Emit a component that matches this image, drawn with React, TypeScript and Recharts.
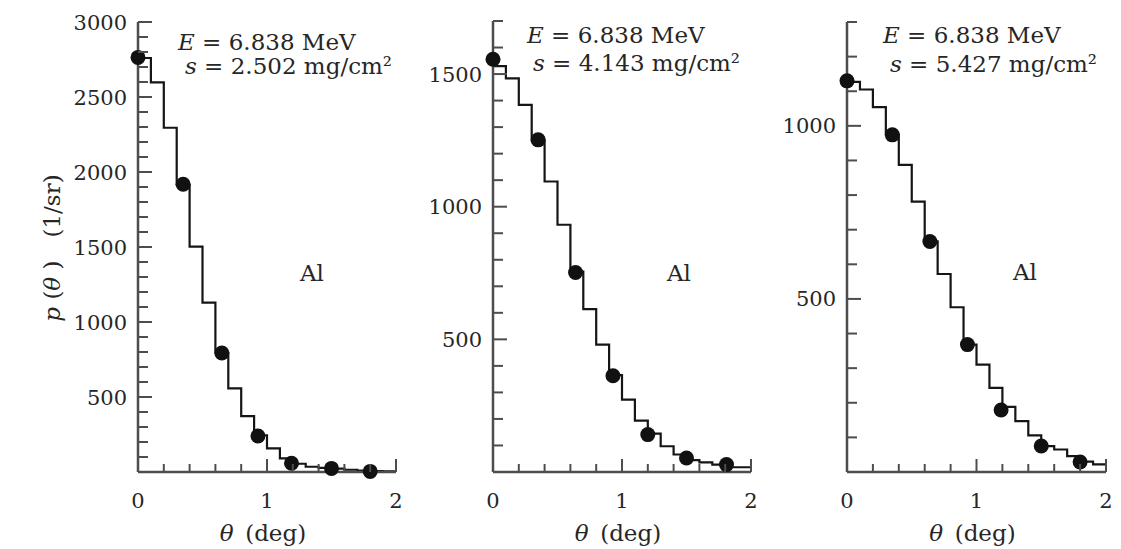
import { ComposedChart, Line, Scatter, XAxis, YAxis } from 'recharts';

// bin edges of the histogram (deg), shared by all panels
const binEdges = [0, 0.1, 0.2, 0.3, 0.4, 0.5, 0.6, 0.7, 0.8, 0.9, 1.0, 1.1, 1.2, 1.3, 1.4, 1.5, 1.6, 1.7, 1.8, 1.9, 2.0];
const xTicks = [0, 0.2, 0.4, 0.6, 0.8, 1, 1.2, 1.4, 1.6, 1.8, 2];
const xLabels = [0, 1, 2];

// s = 2.502 mg/cm2
const hist1 = [2760, 2598, 2295, 1915, 1502, 1129, 795, 558, 373, 245, 158, 91, 55, 35, 28, 22, 15, 10, 6, 4];
const measX1 = [0, 0.35, 0.65, 0.93, 1.19, 1.5, 1.8];
const measY1 = [2764, 1918, 793, 240, 58, 24, 4];
const yLabels1 = [500, 1000, 1500, 2000, 2500, 3000];

// s = 4.143 mg/cm2
const hist2 = [1530, 1484, 1384, 1250, 1095, 932, 755, 614, 480, 365, 273, 194, 145, 97, 66, 45, 36, 28, 18, 18];
const measX2 = [0, 0.35, 0.64, 0.93, 1.2, 1.5, 1.81];
const measY2 = [1556, 1252, 752, 363, 141, 53, 28];
const yLabels2 = [500, 1000, 1500];

// s = 5.427 mg/cm2
const hist3 = [1127, 1105, 1054, 975, 887, 781, 666, 572, 476, 368, 310, 243, 188, 147, 106, 75, 65, 46, 30, 22];
const measX3 = [0, 0.35, 0.64, 0.93, 1.19, 1.5, 1.8];
const measY3 = [1130, 974, 666, 368, 179, 75, 29];
const yLabels3 = [500, 1000];

const FONT = "'DejaVu Serif', serif";
const TEXT = '#262626';
const AXIS = '#4d4d4d';
const H = 549;

const panels = [
  {
    hist: hist1, mx: measX1, my: measY1, yMax: 3000, yLabels: yLabels1,
    thickness: '2.502', plotLeft: 138, plotTop: 22, plotBottom: 472, plotW: 258, yAxisW: 138,
    eAt: [178, 50], sAt: [185, 74], alAt: [300, 281], showYTitle: true,
  },
  {
    hist: hist2, mx: measX2, my: measY2, yMax: 1700, yLabels: yLabels2,
    thickness: '4.143', plotLeft: 493, plotTop: 21, plotBottom: 472, plotW: 258, yAxisW: 90,
    eAt: [527, 43], sAt: [533, 71], alAt: [667, 281], showYTitle: false,
  },
  {
    hist: hist3, mx: measX3, my: measY3, yMax: 1300, yLabels: yLabels3,
    thickness: '5.427', plotLeft: 847, plotTop: 22, plotBottom: 472, plotW: 259, yAxisW: 90,
    eAt: [883, 43], sAt: [890, 72], alAt: [1013, 280], showYTitle: false,
  },
];

function XTick(props: any) {
  const { x, y, payload } = props;
  const v = payload.value;
  const major = xLabels.includes(v);
  return (
    <g>
      {v > 0 && <line x1={x} x2={x} y1={y} y2={y - (major ? 13 : 8)} stroke={AXIS} strokeWidth={2} />}
      {major && (
        <text x={x} y={y + 36} textAnchor="middle" fontFamily={FONT} fontSize={21} fill={TEXT}>
          {v}
        </text>
      )}
    </g>
  );
}

function makeYTick(labels: number[]) {
  return function YTick(props: any) {
    const { x, y, payload } = props;
    const v = payload.value;
    const major = labels.includes(v);
    if (v === 0) return <g />;
    return (
      <g>
        <line x1={x} x2={x + (major ? 14 : 10)} y1={y} y2={y} stroke={AXIS} strokeWidth={2} />
        {major && (
          <text x={x - 11} y={y + 7.5} textAnchor="end" fontFamily={FONT} fontSize={21} fill={TEXT}>
            {v}
          </text>
        )}
      </g>
    );
  };
}

function xTitle(props: any) {
  const vb = props.viewBox;
  return (
    <text x={vb.x + vb.width / 2 - 4} y={vb.y + 69} textAnchor="middle" fontFamily={FONT} fontSize={23} fill={TEXT}>
      <tspan fontStyle="italic">θ</tspan>
      <tspan>{'\u2002(deg)'}</tspan>
    </text>
  );
}

function yTitle() {
  return (
    <text x={60} y={248} transform="rotate(-90, 60, 248)" textAnchor="middle" fontFamily={FONT} fontSize={23} fill={TEXT}>
      <tspan fontStyle="italic">p</tspan>
      <tspan> (</tspan>
      <tspan fontStyle="italic">θ</tspan>
      <tspan>{' )\u2003(1/sr)'}</tspan>
    </text>
  );
}

const Dot = (props: any) => <circle cx={props.cx} cy={props.cy} r={7.5} fill="#111" />;

function Panel({ p }: { p: (typeof panels)[number] }) {
  const histData = binEdges.map((x, i) => ({ x, y: p.hist[Math.min(i, p.hist.length - 1)] }));
  const measData = p.mx.map((x, i) => ({ x, y: p.my[i] }));
  const yTicks = Array.from({ length: p.yMax / 100 + 1 }, (_, i) => i * 100);
  const right = 30;
  const width = p.yAxisW + p.plotW + right;
  return (
    <div style={{ position: 'absolute', left: p.plotLeft - p.yAxisW, top: 0 }}>
      <ComposedChart
        width={width}
        height={H}
        margin={{ top: p.plotTop, right, bottom: 0, left: 0 }}
      >
        <XAxis
          type="number"
          dataKey="x"
          domain={[0, 2]}
          ticks={xTicks}
          interval={0}
          tickLine={false}
          tickSize={0}
          tickMargin={0}
          tick={XTick}
          height={H - p.plotBottom}
          axisLine={{ stroke: AXIS, strokeWidth: 2.5 }}
          label={xTitle}
        />
        <YAxis
          type="number"
          dataKey="y"
          domain={[0, p.yMax]}
          ticks={yTicks}
          interval={0}
          tickLine={false}
          tickSize={0}
          tickMargin={0}
          tick={makeYTick(p.yLabels)}
          width={p.yAxisW}
          axisLine={{ stroke: AXIS, strokeWidth: 2.5 }}
          label={p.showYTitle ? yTitle : undefined}
        />
        <Line
          data={histData}
          dataKey="y"
          type="stepAfter"
          stroke="#151515"
          strokeWidth={2.2}
          dot={false}
          isAnimationActive={false}
        />
        <Scatter data={measData} dataKey="y" shape={Dot} isAnimationActive={false} />
      </ComposedChart>
    </div>
  );
}

export default function App() {
  return (
    <div style={{ position: 'absolute', left: 0, top: 0, width: 1121, height: H, background: '#fff' }}>
      {panels.map((p, i) => (
        <Panel key={i} p={p} />
      ))}
      <svg width={1121} height={H} style={{ position: 'absolute', left: 0, top: 0, pointerEvents: 'none' }}>
        {panels.map((p, i) => (
          <g key={i} fontFamily={FONT} fontSize={23} fill={TEXT}>
            <text x={p.eAt[0]} y={p.eAt[1]}>
              <tspan fontStyle="italic">E</tspan>
              <tspan>{' = 6.838 MeV'}</tspan>
            </text>
            <text x={p.sAt[0]} y={p.sAt[1]}>
              <tspan fontStyle="italic">s</tspan>
              <tspan>{` = ${p.thickness} mg/cm²`}</tspan>
            </text>
            <text x={p.alAt[0]} y={p.alAt[1]}>Al</text>
          </g>
        ))}
      </svg>
    </div>
  );
}
